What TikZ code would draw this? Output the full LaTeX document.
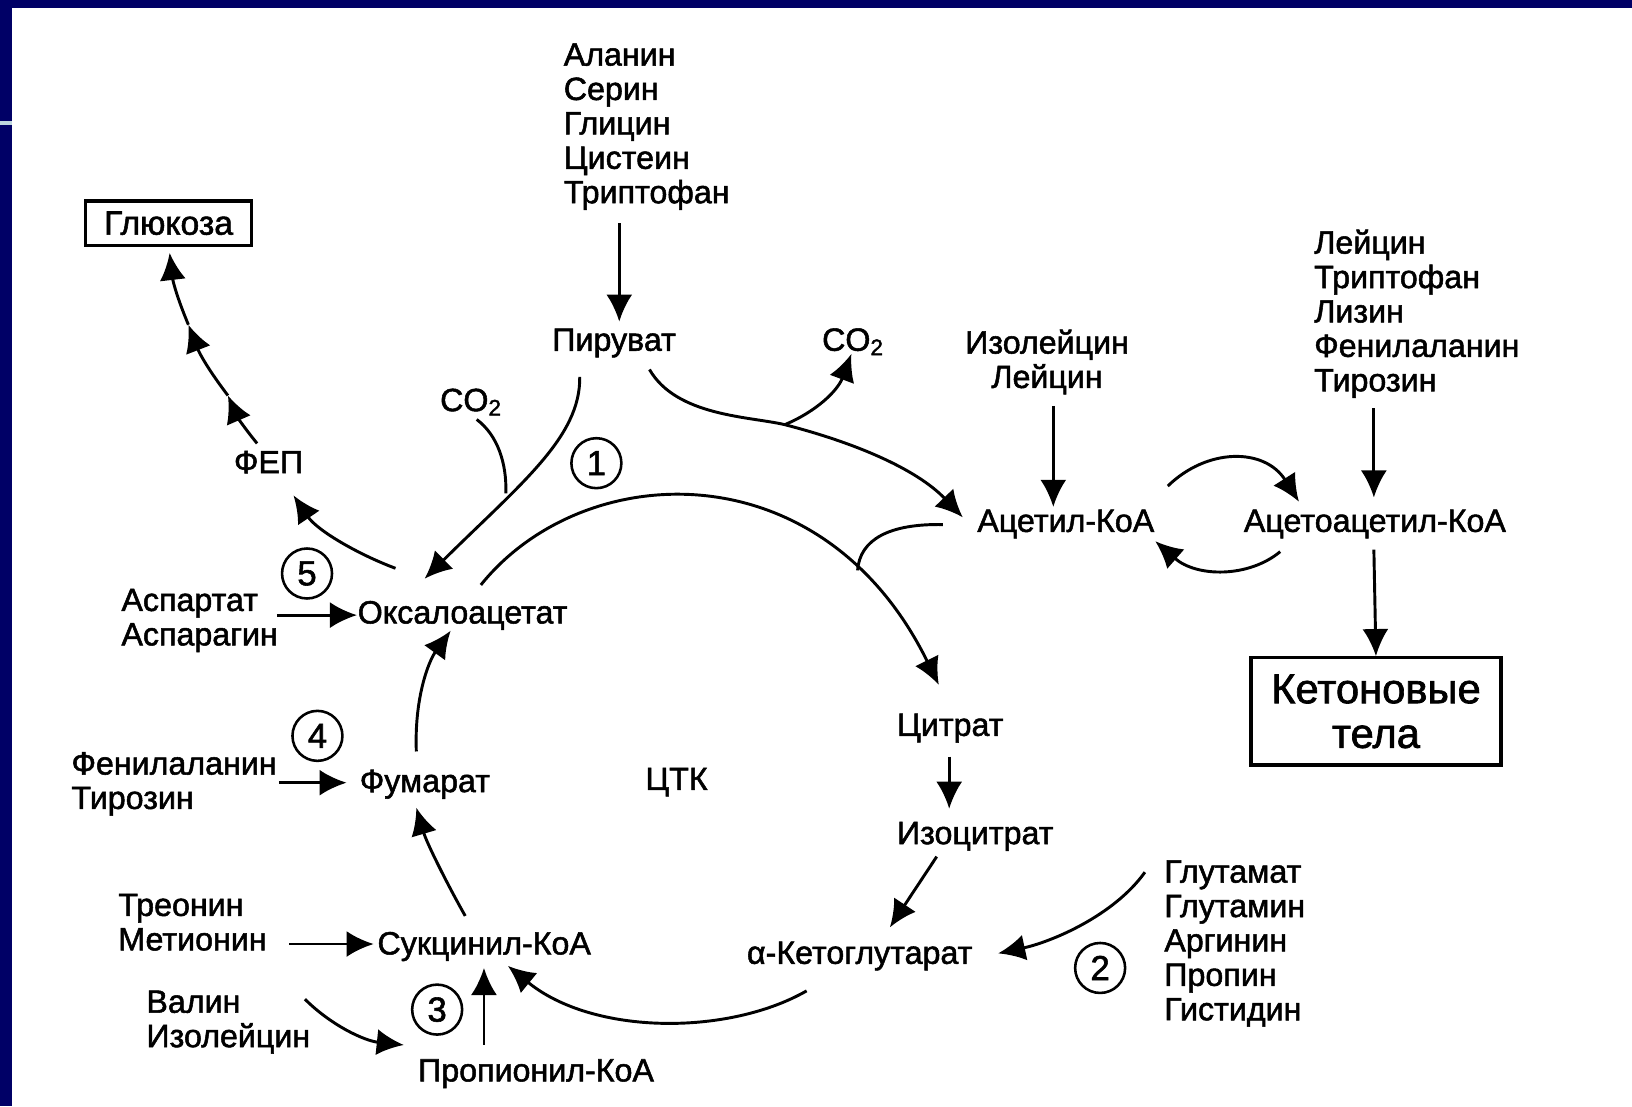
\documentclass[tikz,border=0pt]{standalone}
\usepackage{fontspec}
\setmainfont{Liberation Sans}[AutoFakeBold=1.6]
\usetikzlibrary{arrows.meta}
\definecolor{navy}{RGB}{0,0,102}
\definecolor{lightbar}{RGB}{190,214,222}
\begin{document}
\begin{tikzpicture}[x=0.01cm,y=-0.01cm,
  lbl/.style={inner sep=0pt,font=\fontsize{8.8}{9.4}\selectfont\bfseries},
  lbase/.style={lbl,anchor=base},
  lbw/.style={lbl,anchor=base west},
  lst/.style={lbl,align=left,anchor=north west},
  arr/.style={line width=0.8pt,-{Latex[length=2.6mm,width=2.5mm]}},
  ln/.style={line width=0.8pt},
  num/.style={circle,draw,line width=0.7pt,minimum size=0.48cm,inner sep=0pt,font=\fontsize{9.5}{10}\selectfont\bfseries},
  boxed/.style={draw,line width=0.9pt,inner sep=0pt}]
\useasboundingbox (0,0) rectangle (1568,1063);
\fill[white] (0,0) rectangle (1568,1063);
\fill[navy] (0,0) rectangle (1568,7.7);
\fill[navy] (0,0) rectangle (11.5,1063);
\fill[lightbar] (0,116.5) rectangle (11.5,120.5);

% nodes
\node[lbl,boxed,minimum width=1.59cm,minimum height=0.43cm,font=\fontsize{9.2}{10}\selectfont\bfseries] (gluc) at (162,214.5) {Глюкоза};
\node[lbl] (fep) at (258,444) {ФЕП};
\node[lbase] (co2a) at (453,395) {CO\textsubscript{2}};
\node[lst] (ala) at (541,41) {Аланин\\Серин\\Глицин\\Цистеин\\Триптофан};
\node[lbase] (pyr) at (590,337) {Пируват};
\node[lbase] (co2b) at (820,337) {CO\textsubscript{2}};
\node[lbl,align=center,anchor=north] (il) at (1006,316) {Изолейцин\\Лейцин};
\node[lst] (rl) at (1262,220) {Лейцин\\Триптофан\\Лизин\\Фенилаланин\\Тирозин};
\node[lbase] (acet) at (1024,511) {Ацетил-КоА};
\node[lbase] (acac) at (1321,511) {Ацетоацетил-КоА};
\node[boxed,minimum width=2.40cm,minimum height=1.03cm,align=center,font=\fontsize{11.4}{12.2}\selectfont\bfseries] (keto) at (1322,683.5) {Кетоновые\\тела};
\node[lst] (asp) at (116,565) {Аспартат\\Аспарагин};
\node[lbw] (oxa) at (343,599) {Оксалоацетат};
\node[lst] (fen) at (68,722) {Фенилаланин\\Тирозин};
\node[lbw] (fum) at (345,761) {Фумарат};
\node[lbase] (ctk) at (650,759) {ЦТК};
\node[lbase] (cit) at (913,707) {Цитрат};
\node[lbase] (isc) at (937,811) {Изоцитрат};
\node[lst] (tre) at (113,858) {Треонин\\Метионин};
\node[lbw] (suc) at (362,917) {Сукцинил-КоА};
\node[lbase] (akg) at (826,926) {α-Кетоглутарат};
\node[lst] (glu) at (1118,826) {Глутамат\\Глутамин\\Аргинин\\Пропин\\Гистидин};
\node[lst] (val) at (140,951) {Валин\\Изолейцин};
\node[lbase] (pro) at (515,1039) {Пропионил-КоА};
\node[num] (n1) at (573,445) {1};
\node[num] (n2) at (1057,930) {2};
\node[num] (n3) at (420,970) {3};
\node[num] (n4) at (305,707) {4};
\node[num] (n5) at (295,551) {5};

% connector points
\coordinate (pyrS) at (557,362);
\coordinate (pyrE) at (624,355);
\coordinate (oxaT) at (408,556);
\coordinate (join1) at (486,474);
\coordinate (co2aS) at (458,403);
\coordinate (oxaL) at (380,546);
\coordinate (fepR) at (282,476);
\coordinate (fepT) at (247,426);
\coordinate (g1) at (219,380);
\coordinate (g2) at (181,312);
\coordinate (glucB) at (163,243);
\coordinate (br) at (754,408);
\coordinate (co2bB) at (818,340);
\coordinate (acetL) at (925,497);
\coordinate (oxaR) at (462,562);
\coordinate (citT) at (902,658);
\coordinate (acetJ) at (906,504);
\coordinate (arcJ) at (824,548);

% connectors
\draw[arr] (ala.south -| 595,0) ++(0,12) -- (595,309);
\draw[arr] (pyrS) .. controls (558,420) and (500,465) .. (oxaT);
\draw[ln] (co2aS) .. controls (478,418) and (487,445) .. (join1);
\draw[arr] (oxaL) .. controls (345,533) and (305,510) .. (fepR);
\draw[arr] (fepT) to[bend left=8] (g1);
\draw[arr] (g1) to[bend left=8] (g2);
\draw[arr] (g2) to[bend left=8] (glucB);
\draw[arr] (pyrE) .. controls (650,400) and (720,400) .. (br) .. controls (820,425) and (880,450) .. (acetL);
\draw[arr] (br) .. controls (785,395) and (805,375) .. (co2bB);
\draw[arr] (oxaR) .. controls (560,440) and (790,430) .. (citT);
\draw[ln] (acetJ) .. controls (855,503) and (826,518) .. (arcJ);
\draw[arr] (1012,390) -- (1012,487);
\draw[arr] (1320,392) -- (1320,478);
\draw[arr] (1122,467) .. controls (1160,430) and (1215,430) .. (1248,482);
\draw[arr] (1230,530) .. controls (1200,555) and (1150,555) .. (1110,520);
\draw[arr] (1320,528) -- (keto.north);
\draw[arr] (266,591) -- (oxa.west |- 0,591);
\draw[arr] (268,752) -- (333,752);
\draw[arr] (400,722) .. controls (398,670) and (412,635) .. (433,606);
\draw[arr] (447,880) .. controls (430,850) and (410,810) .. (400,776);
\draw[arr] (278,907) -- (359,907);
\draw[arr] (775,952) .. controls (700,995) and (570,995) .. (488,928);
\draw[arr] (465,1004) -- (465,930);
\draw[arr] (293,960) .. controls (318,985) and (350,1000) .. (388,1004);
\draw[arr] (912,727) -- (912,777);
\draw[arr] (900,823) -- (855,891);
\draw[arr] (1100,838) .. controls (1070,880) and (1010,905) .. (959,916);
\end{tikzpicture}
\end{document}
